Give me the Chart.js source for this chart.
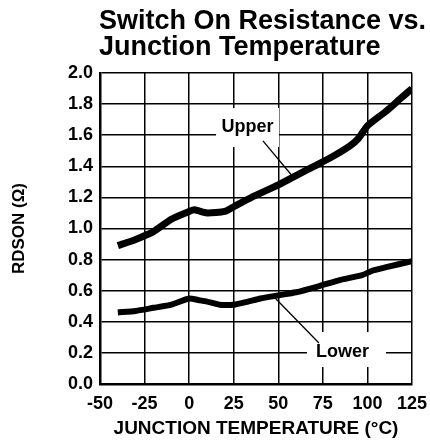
<!DOCTYPE html>
<html>
<head>
<meta charset="utf-8">
<script src="https://cdn.jsdelivr.net/npm/chart.js@4/dist/chart.umd.min.js"></script>
<style>
  html, body { margin: 0; padding: 0; background: #fff; }
  #wrap { width: 430px; height: 445px; position: relative; }
</style>
</head>
<body>
<div id="wrap"><canvas id="grafica"></canvas></div>
<script>
// datos
const tituloLineas = ['Switch On Resistance vs.', 'Junction Temperature'];
const tempUpper = [-40, -30, -20, -10, 0, 3, 10, 20, 25, 35, 50, 60, 70, 80, 90, 95, 100, 110, 118, 125];
const rdsUpper = [0.89, 0.93, 0.98, 1.06, 1.11, 1.12, 1.10, 1.11, 1.14, 1.20, 1.28, 1.34, 1.40, 1.46, 1.53, 1.58, 1.66, 1.75, 1.83, 1.90];
const tempLower = [-40, -30, -20, -10, 0, 5, 10, 17, 25, 33, 40, 50, 60, 73, 85, 97, 103, 110, 125];
const rdsLower = [0.46, 0.47, 0.49, 0.51, 0.55, 0.54, 0.53, 0.51, 0.51, 0.53, 0.55, 0.57, 0.59, 0.63, 0.67, 0.70, 0.73, 0.75, 0.79];
const xTicks = [-50, -25, 0, 25, 50, 75, 100, 125];
const yTicks = [0.0, 0.2, 0.4, 0.6, 0.8, 1.0, 1.2, 1.4, 1.6, 1.8, 2.0];

const FUENTE = '"Liberation Sans", Arial, Helvetica, sans-serif';

const puntos = (X, Y) => X.map((xi, i) => ({ x: xi, y: Y[i] }));

// titulo alineado con el borde izquierdo del area de grafica
const tituloPlugin = {
  id: 'tituloPlugin',
  afterDraw(chart) {
    const ctx = chart.ctx;
    ctx.save();
    ctx.fillStyle = '#000';
    ctx.font = 'bold 27px ' + FUENTE;
    ctx.textAlign = 'left';
    ctx.textBaseline = 'alphabetic';
    ctx.fillText(tituloLineas[0], chart.chartArea.left - 1, 29);
    ctx.fillText(tituloLineas[1], chart.chartArea.left - 1, 55);
    ctx.restore();
  }
};

// etiquetas "Upper" / "Lower" con caja blanca sobre la rejilla y linea guia
const etiquetasPlugin = {
  id: 'etiquetasPlugin',
  beforeDatasetsDraw(chart) {
    const { ctx, scales: { x, y } } = chart;
    const etiquetas = [
      { texto: 'Upper', caja: [15.1, 1.775, 50.4, 1.524], centro: [32.7, 1.655], guia: [41.4, 1.563, 58.8, 1.325] },
      { texto: 'Lower', caja: [66.1, 0.334, 110.4, 0.109], centro: [86.0, 0.206], guia: [48.2, 0.553, 72.8, 0.264] }
    ];
    ctx.save();
    etiquetas.forEach(e => {
      const x0 = x.getPixelForValue(e.caja[0]), y0 = y.getPixelForValue(e.caja[1]);
      const x1 = x.getPixelForValue(e.caja[2]), y1 = y.getPixelForValue(e.caja[3]);
      ctx.fillStyle = '#fff';
      ctx.fillRect(x0, y0, x1 - x0, y1 - y0);
      ctx.fillStyle = '#000';
      ctx.font = 'bold 18px ' + FUENTE;
      ctx.textAlign = 'center';
      ctx.textBaseline = 'middle';
      ctx.fillText(e.texto, x.getPixelForValue(e.centro[0]), y.getPixelForValue(e.centro[1]));
      ctx.strokeStyle = '#000';
      ctx.lineWidth = 1.3;
      ctx.beginPath();
      ctx.moveTo(x.getPixelForValue(e.guia[0]), y.getPixelForValue(e.guia[1]));
      ctx.lineTo(x.getPixelForValue(e.guia[2]), y.getPixelForValue(e.guia[3]));
      ctx.stroke();
    });
    ctx.restore();
  }
};

const ctx = document.getElementById('grafica').getContext('2d');
const chart = new Chart(ctx, {
  type: 'line',
  data: {
    datasets: [
      { label: 'Upper', data: puntos(tempUpper, rdsUpper), borderColor: '#000', borderWidth: 7, pointRadius: 0, tension: 0.2, fill: false, borderCapStyle: 'butt' },
      { label: 'Lower', data: puntos(tempLower, rdsLower), borderColor: '#000', borderWidth: 6, pointRadius: 0, tension: 0.2, fill: false, borderCapStyle: 'butt' }
    ]
  },
  options: {
    responsive: true,
    maintainAspectRatio: false,
    animation: false,
    layout: { padding: { top: 73, right: 18, left: 0, bottom: 0 } },
    plugins: { legend: { display: false }, title: { display: false }, tooltip: { enabled: false } },
    scales: {
      x: {
        type: 'linear',
        min: -50, max: 125,
        afterBuildTicks: s => { s.ticks = xTicks.map(v => ({ value: v })); },
        afterFit: s => { s.height = 61; s.paddingLeft = 0; s.paddingRight = 0; },
        grid: { color: '#000', lineWidth: 1.5, drawTicks: false },
        border: { color: '#000', width: 2.5 },
        ticks: { color: '#000', font: { family: FUENTE, size: 18, weight: 'bold' }, padding: 9, maxRotation: 0, callback: v => v },
        title: { display: true, text: 'JUNCTION TEMPERATURE (°C)', color: '#000', font: { family: FUENTE, size: 19, weight: 'bold' }, padding: { top: 0, bottom: 5 } }
      },
      y: {
        min: 0, max: 2,
        afterBuildTicks: s => { s.ticks = yTicks.map(v => ({ value: v })); },
        afterFit: s => { s.width = 100; s.paddingTop = 0; s.paddingBottom = 0; },
        grid: { color: '#000', lineWidth: 1.5, drawTicks: false },
        border: { color: '#000', width: 2.5 },
        ticks: { color: '#000', font: { family: FUENTE, size: 18, weight: 'bold' }, padding: 7, callback: v => Number(v).toFixed(1) },
        title: { display: true, text: 'RDSON (Ω)', color: '#000', font: { family: FUENTE, size: 17, weight: 'bold' }, padding: { top: 9, bottom: 0 } }
      }
    }
  },
  plugins: [tituloPlugin, etiquetasPlugin]
});
</script>
</body>
</html>
